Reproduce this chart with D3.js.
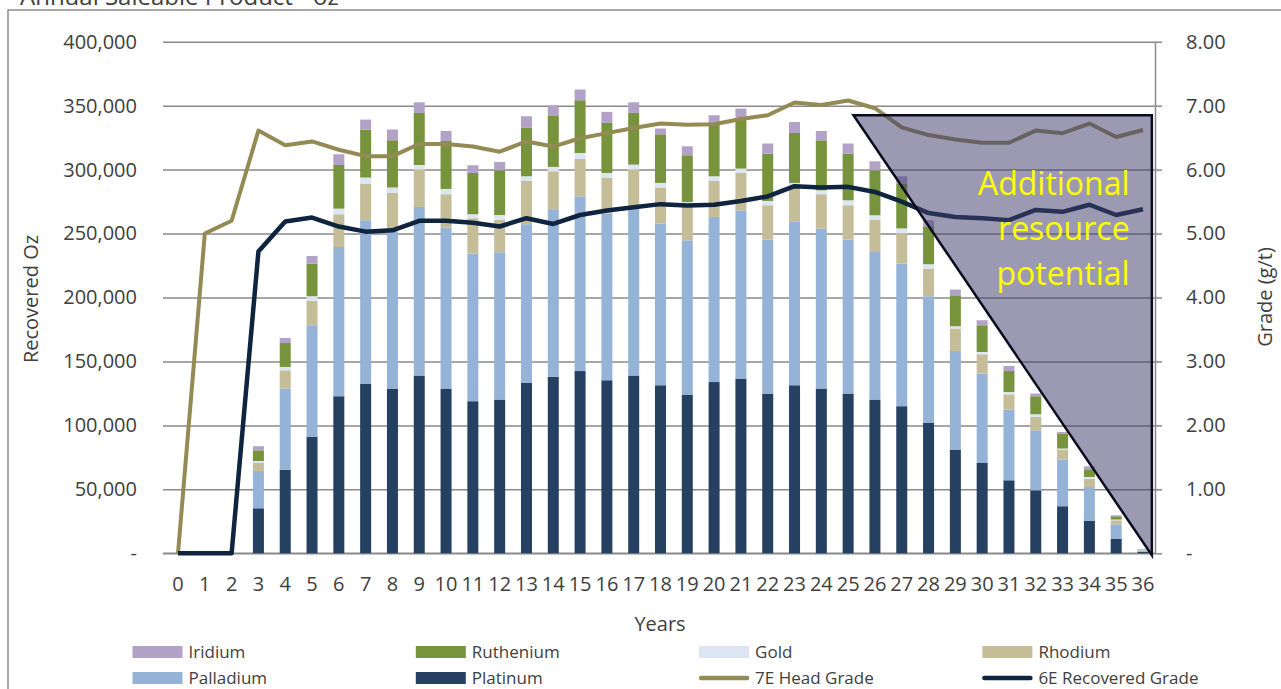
<!DOCTYPE html>
<html><head><meta charset="utf-8">
<script src="https://cdn.jsdelivr.net/npm/d3@7"></script>
<style>body{margin:0;background:#fff;} svg{display:block;font-family:"Open Sans",sans-serif;}</style>
</head><body><svg id="chart" width="1281" height="689"></svg>
<script>
// ---------- data ----------
const years = ["0","1","2","3","4","5","6","7","8","9","10","11","12","13","14","15","16","17","18","19","20","21","22","23","24","25","26","27","28","29","30","31","32","33","34","35","36"];
const platinum  = [0,0,0,35200,65400,90900,122800,132700,128800,139000,128800,118900,120200,133200,137900,142500,135300,139000,131400,124100,133900,136600,124900,131400,128800,124900,120200,115000,101900,81100,70600,57100,49300,36800,25300,11500,1200];
const palladium = [0,0,0,29200,63400,87400,116700,127700,122400,131800,125900,115400,115200,124100,131100,136600,130300,130200,126400,120600,129100,131600,120400,127700,125100,120400,115400,111500,99100,77100,69900,55300,46900,36500,26500,11200,1000];
const rhodium   = [0,0,0,6200,14300,19000,25600,28700,30500,29200,26000,27700,25500,33800,29700,29200,28200,30800,28200,26100,28100,29200,26800,27300,26800,26800,25300,24000,21600,17500,15100,11900,10400,7800,6600,3100,300];
const gold      = [0,0,0,1600,2600,3700,4400,4700,4300,3600,4200,3100,3600,3700,3400,4700,3600,3900,3600,3900,3700,3400,3400,3200,3100,3900,3400,3500,3400,1800,1800,1800,2100,800,1300,600,100];
const ruthenium = [0,0,0,8300,18700,25500,34100,37500,36900,40700,37500,32300,35000,37800,39800,41200,39100,40400,38000,36500,41200,39900,37000,39000,39100,36500,35200,35100,29700,24200,20900,16400,14100,11700,6000,2500,400];
const iridium   = [0,0,0,3200,4000,6000,8400,7800,8400,8300,7800,6000,6500,9100,8400,8400,8600,8300,4500,7000,6500,7000,7900,8600,7300,7900,7000,5700,4700,4500,3900,4000,2100,1200,2300,800,100];
const headGrade7E      = [0,5.0,5.2,6.61,6.38,6.44,6.31,6.21,6.21,6.40,6.40,6.36,6.28,6.44,6.36,6.49,6.57,6.65,6.72,6.70,6.71,6.79,6.85,7.05,7.01,7.08,6.96,6.66,6.54,6.47,6.42,6.42,6.61,6.57,6.72,6.51,6.62];
const recoveredGrade6E = [0,0,0,4.72,5.19,5.25,5.11,5.03,5.05,5.20,5.20,5.17,5.11,5.24,5.15,5.29,5.36,5.41,5.46,5.44,5.45,5.51,5.58,5.74,5.72,5.73,5.65,5.50,5.32,5.26,5.24,5.21,5.37,5.34,5.45,5.29,5.38];
const leftTicks  = [0,50000,100000,150000,200000,250000,300000,350000,400000];
const rightTicks = [0,1,2,3,4,5,6,7,8];
const stackKeys  = ["Platinum","Palladium","Rhodium","Gold","Ruthenium","Iridium"];
const legendRow1 = ["Iridium","Ruthenium","Gold","Rhodium"];
const legendRow2 = ["Palladium","Platinum","7E Head Grade","6E Recovered Grade"];
const colors = {Iridium:"#B3A2C7",Ruthenium:"#77933C",Gold:"#DCE6F2",Rhodium:"#C4BD97",Palladium:"#95B3D7",Platinum:"#254061","7E Head Grade":"#948A54","6E Recovered Grade":"#0F243E"};
// annotation triangle corners in data units [year position, grade]
const triangle = [[25.2,6.85],[36.33,6.85],[36.33,-0.03]];
const noteLines = ["Additional","resource","potential"];

// ---------- chart ----------
const svg = d3.select("#chart");
const textCol = "#404040", gridCol = "#8a8a8a";
const x = d3.scaleBand().domain(years).range([164.6,1156.4]).paddingInner(0.59).paddingOuter(0.295);
const bw = x.bandwidth();
const cx = d => x(d) + bw/2;
const y  = d3.scaleLinear().domain([0,400000]).range([553.3,41.7]);
const y2 = d3.scaleLinear().domain([0,8]).range([553.3,41.7]);
const xPos = d3.scaleLinear().domain([0,36]).range([cx("0"), cx("36")]);

// outer border + cut-off title
svg.append("rect").attr("x",8).attr("y",10).attr("width",1300).attr("height",720)
  .attr("fill","none").attr("stroke","#8c8c8c").attr("stroke-width",1.5);
svg.append("text").attr("x",20).attr("y",5).attr("font-size",24).attr("fill",textCol)
  .text("Annual Saleable Product - oz");

// left axis with gridlines
const gL = svg.append("g").attr("transform","translate(163,0)")
  .call(d3.axisLeft(y).tickValues(leftTicks).tickSize(-992).tickPadding(26)
    .tickFormat(d => d===0 ? "-" : d3.format(",")(d)));
gL.select(".domain").remove();
gL.selectAll(".tick line").attr("stroke",gridCol).attr("stroke-width",1.5);
gL.selectAll(".tick text").attr("font-size",20).attr("fill",textCol).attr("font-family","Open Sans");

// right axis
const gR = svg.append("g").attr("transform","translate(1155,0)")
  .call(d3.axisRight(y2).tickValues(rightTicks).tickSize(7).tickSizeOuter(0).tickPadding(24)
    .tickFormat(d => d===0 ? "-" : d3.format(".2f")(d)));
gR.select(".domain").attr("stroke",gridCol).attr("stroke-width",1.5);
gR.selectAll(".tick line").attr("stroke",gridCol).attr("stroke-width",1.5);
gR.selectAll(".tick text").attr("font-size",20).attr("fill",textCol).attr("font-family","Open Sans");

// bottom axis
const gB = svg.append("g").attr("transform","translate(0,553.3)")
  .call(d3.axisBottom(x).tickSize(0).tickPadding(24));
gB.select(".domain").attr("stroke",gridCol).attr("stroke-width",1.5).attr("d","M163,0H1155");
gB.selectAll(".tick text").attr("font-size",20).attr("fill",textCol).attr("font-family","Open Sans");

// stacked bars
const table = years.map((yr,i)=>({year:yr,Platinum:platinum[i],Palladium:palladium[i],Rhodium:rhodium[i],Gold:gold[i],Ruthenium:ruthenium[i],Iridium:iridium[i]}));
const stacked = d3.stack().keys(stackKeys)(table);
svg.append("g").selectAll("g").data(stacked).join("g").attr("fill",s=>colors[s.key])
  .selectAll("rect").data(s=>s).join("rect")
  .attr("x",d=>x(d.data.year)).attr("width",bw)
  .attr("y",d=>y(d[1])).attr("height",d=>Math.max(0,y(d[0])-y(d[1])));

// lines
const line = d3.line().x((d,i)=>cx(years[i])).y(d=>y2(d));
svg.append("path").datum(headGrade7E).attr("d",line).attr("fill","none")
  .attr("stroke",colors["7E Head Grade"]).attr("stroke-width",4).attr("stroke-linejoin","round");
svg.append("path").datum(recoveredGrade6E).attr("d",line).attr("fill","none")
  .attr("stroke",colors["6E Recovered Grade"]).attr("stroke-width",4.5).attr("stroke-linejoin","round");

// overlay triangle
svg.append("polygon").attr("points",triangle.map(p=>[xPos(p[0]),y2(p[1])].join(",")).join(" "))
  .attr("fill","rgb(66,62,110)").attr("fill-opacity",0.52)
  .attr("stroke","#0b0b1e").attr("stroke-width",2.5).attr("stroke-linejoin","miter");
const noteX = xPos(35.5);
svg.append("g").selectAll("text").data(noteLines).join("text")
  .attr("x",noteX).attr("y",(d,i)=>195+i*45).attr("text-anchor","end")
  .attr("font-size",32).attr("fill","#FFFF00").text(d=>d);

// axis titles
svg.append("text").attr("transform","translate(38,299) rotate(-90)").attr("text-anchor","middle")
  .attr("font-size",20).attr("fill",textCol).text("Recovered  Oz");
svg.append("text").attr("transform","translate(1272,297) rotate(-90)").attr("text-anchor","middle")
  .attr("font-size",20).attr("fill",textCol).text("Grade (g/t)");
svg.append("text").attr("x",660).attr("y",631).attr("text-anchor","middle")
  .attr("font-size",20).attr("fill",textCol).text("Years");

// legend
const legX0 = 132.5, legStep = 283.3;
function legendItem(name,col,cyRow){
  const g = svg.append("g");
  const sx = legX0 + col*legStep;
  if (name.includes("Grade")) {
    g.append("line").attr("x1",sx+2).attr("x2",sx+48).attr("y1",cyRow).attr("y2",cyRow)
      .attr("stroke",colors[name]).attr("stroke-width",4.5).attr("stroke-linecap","round");
  } else {
    g.append("rect").attr("x",sx).attr("y",cyRow-6).attr("width",50).attr("height",12).attr("fill",colors[name]);
  }
  g.append("text").attr("x",sx+56).attr("y",cyRow).attr("dy","0.35em").attr("font-size",17)
    .attr("fill",textCol).text(name);
}
legendRow1.forEach((n,i)=>legendItem(n,i,652));
legendRow2.forEach((n,i)=>legendItem(n,i,678));
</script></body></html>
